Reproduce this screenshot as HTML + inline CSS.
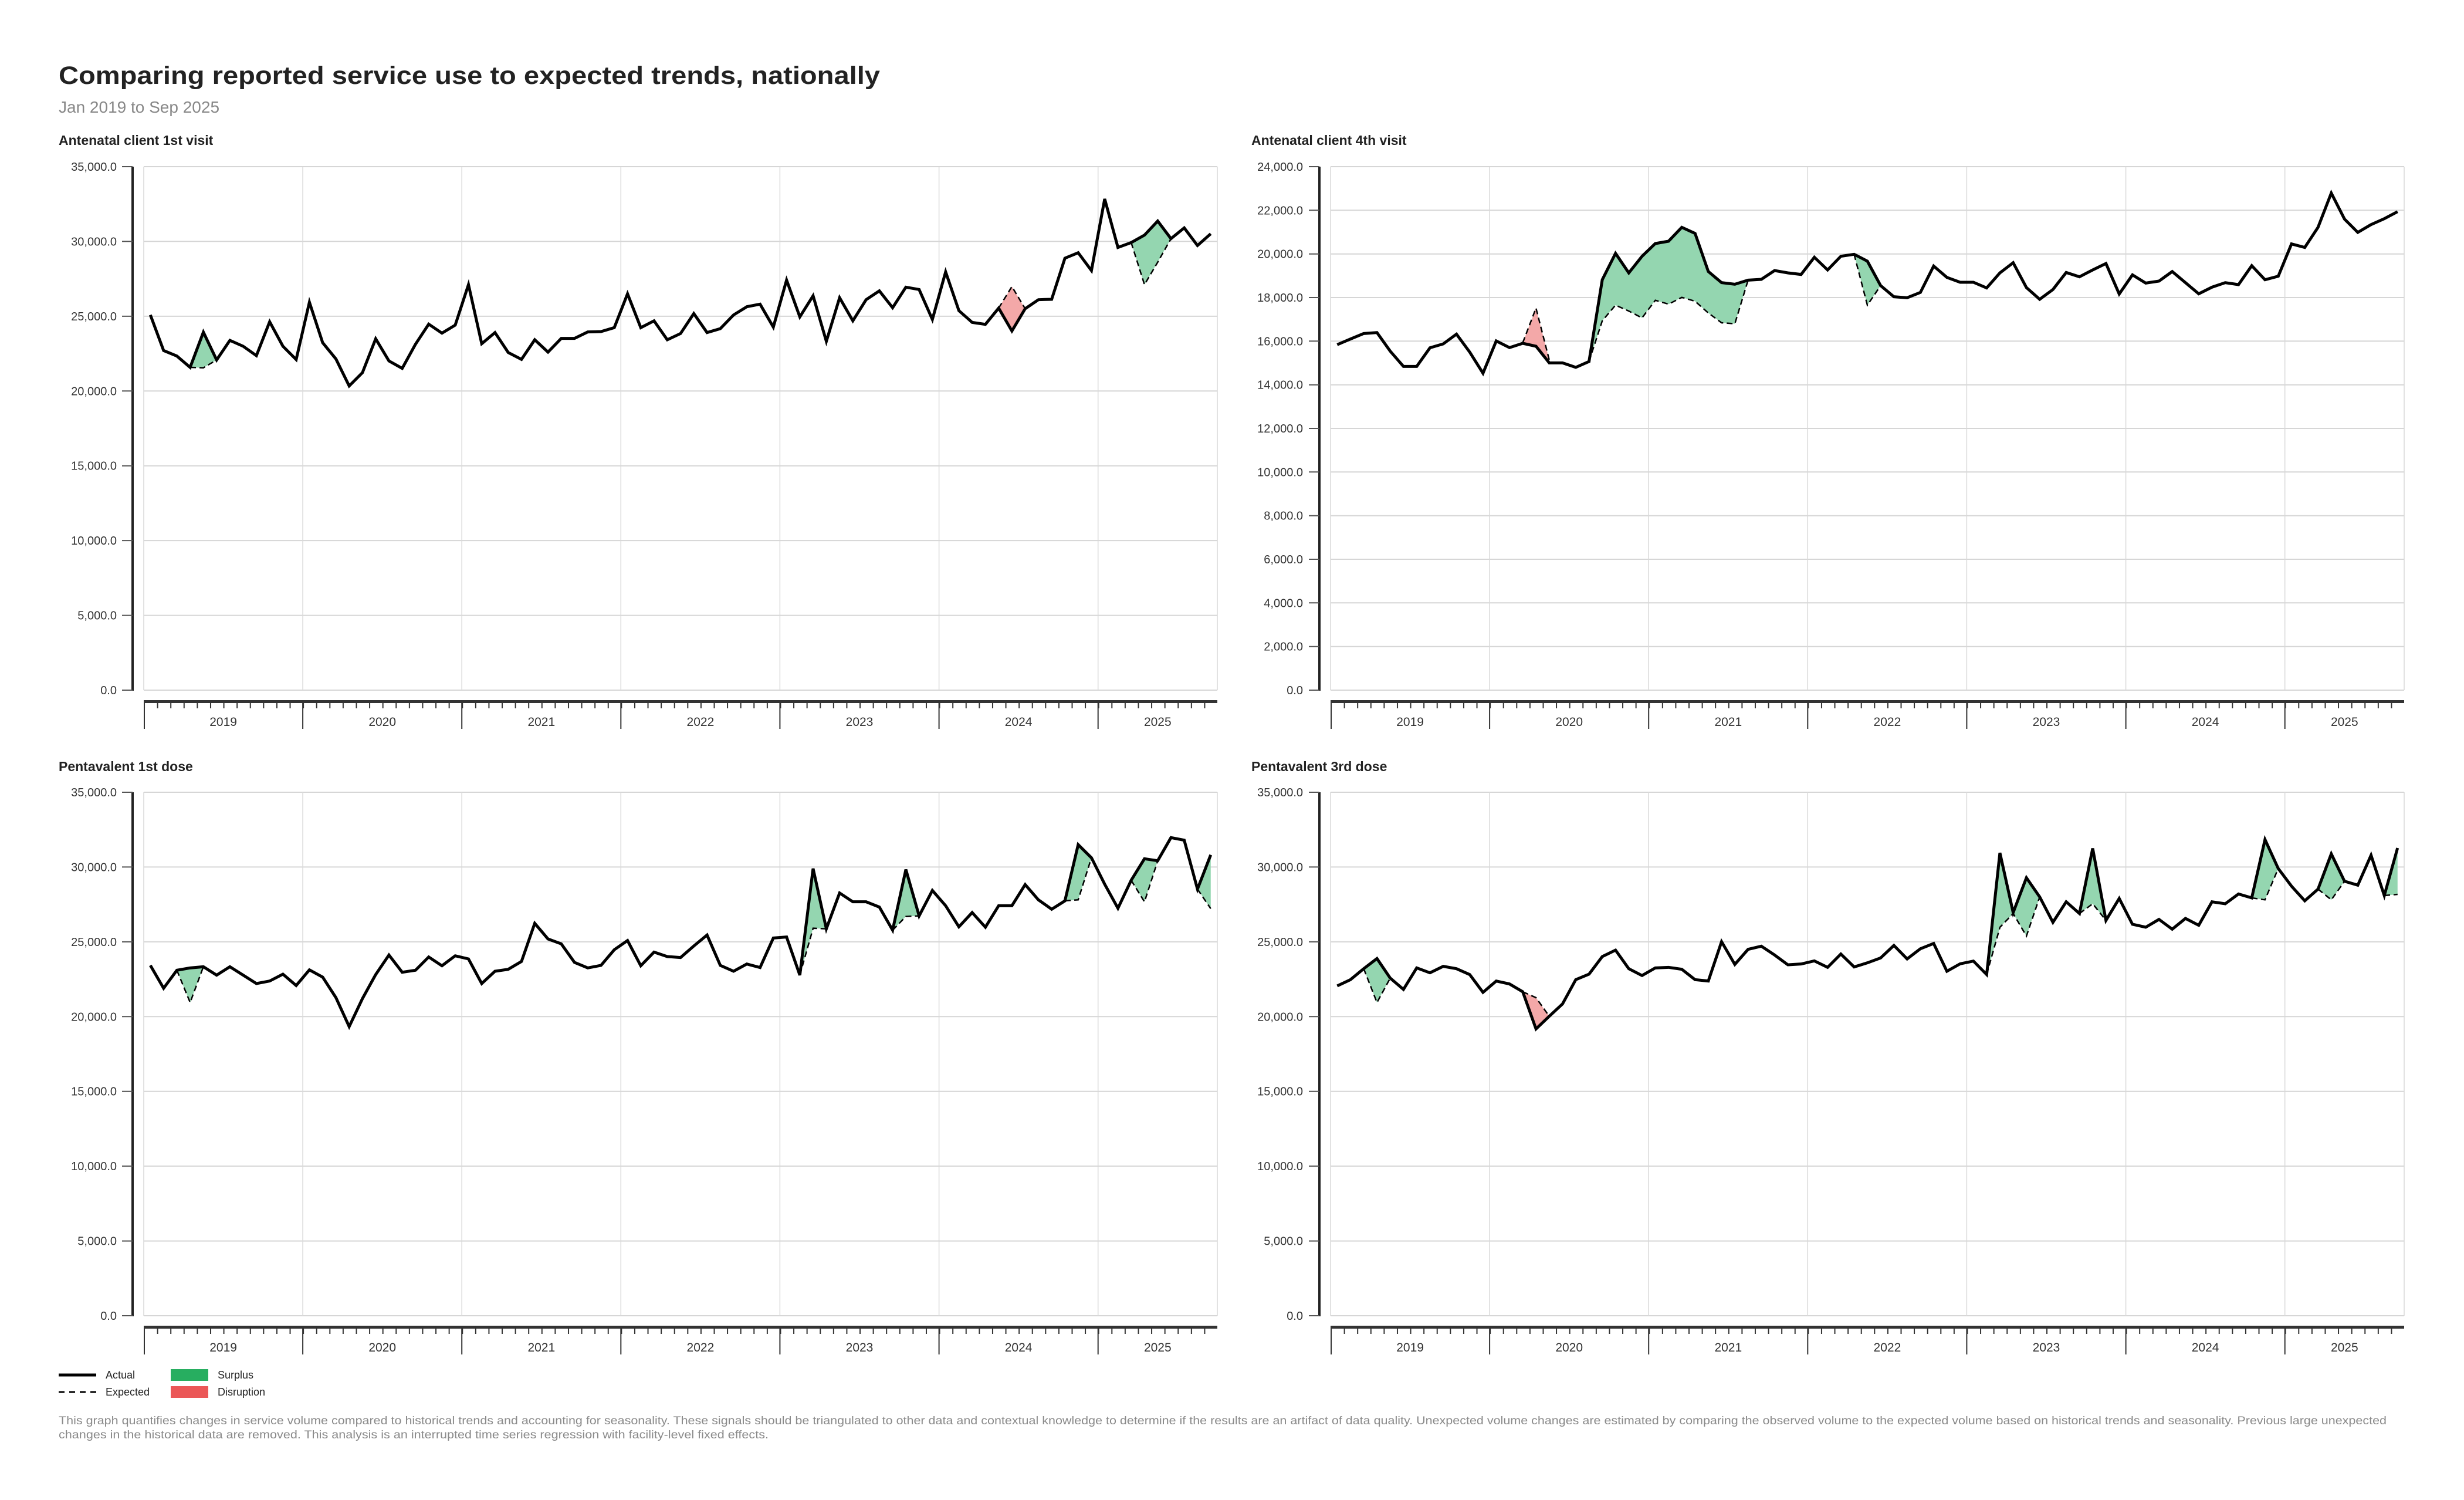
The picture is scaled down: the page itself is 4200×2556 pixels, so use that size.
<!DOCTYPE html>
<html><head><meta charset="utf-8"><style>
html,body{margin:0;padding:0;background:#fff;}
svg{display:block;font-family:"Liberation Sans",sans-serif;}
.yl{font-size:20px;fill:#333;text-anchor:end;}
.xl{font-size:21px;fill:#333;text-anchor:middle;}
.pt{font-size:23px;font-weight:bold;fill:#222;}
.grid{stroke:#d6d6d6;stroke-width:2;}
.vg{stroke:#d9d9d9;stroke-width:1.5;}
.act{fill:none;stroke:#000;stroke-width:5;stroke-linejoin:miter;vector-effect:non-scaling-stroke;}
.exp{fill:none;stroke:#000;stroke-width:2.5;stroke-dasharray:10 6;}
.gf{fill:#94d6b0;}
.rf{fill:#f3a8a8;}
</style></head><body>
<svg width="4200" height="2556" viewBox="0 0 4200 2556" xmlns="http://www.w3.org/2000/svg">
<defs>
<pattern id="mt1" patternUnits="userSpaceOnUse" x="245" y="0" width="22.593" height="20"><rect x="0" y="0" width="2" height="20" fill="#333"/></pattern>
<pattern id="mt2" patternUnits="userSpaceOnUse" x="2268" y="0" width="22.593" height="20"><rect x="0" y="0" width="2" height="20" fill="#333"/></pattern>
</defs>

<text x="100" y="143" font-size="43" font-weight="bold" fill="#222" textLength="1400" lengthAdjust="spacingAndGlyphs">Comparing reported service use to expected trends, nationally</text>
<text x="100" y="192" font-size="28" fill="#888">Jan 2019 to Sep 2025</text>

<!-- ========== PANEL 1 ========== -->
<text class="pt" x="100" y="247">Antenatal client 1st visit</text>
<g>
<g class="grid">
<line x1="245" x2="2075" y1="1176" y2="1176"/><line x1="245" x2="2075" y1="1048.6" y2="1048.6"/><line x1="245" x2="2075" y1="921.1" y2="921.1"/><line x1="245" x2="2075" y1="793.7" y2="793.7"/><line x1="245" x2="2075" y1="666.3" y2="666.3"/><line x1="245" x2="2075" y1="538.9" y2="538.9"/><line x1="245" x2="2075" y1="411.4" y2="411.4"/><line x1="245" x2="2075" y1="284" y2="284"/>
</g>
<g class="vg">
<line x1="245" x2="245" y1="284" y2="1176"/><line x1="516.1" x2="516.1" y1="284" y2="1176"/><line x1="787.2" x2="787.2" y1="284" y2="1176"/><line x1="1058.3" x2="1058.3" y1="284" y2="1176"/><line x1="1329.4" x2="1329.4" y1="284" y2="1176"/><line x1="1600.6" x2="1600.6" y1="284" y2="1176"/><line x1="1871.7" x2="1871.7" y1="284" y2="1176"/><line x1="2075" x2="2075" y1="284" y2="1176"/>
</g>
<line x1="226" x2="226" y1="284" y2="1177" stroke="#222" stroke-width="4"/>
<g stroke="#555" stroke-width="2">
<line x1="208" x2="226" y1="1176" y2="1176"/><line x1="208" x2="226" y1="1048.6" y2="1048.6"/><line x1="208" x2="226" y1="921.1" y2="921.1"/><line x1="208" x2="226" y1="793.7" y2="793.7"/><line x1="208" x2="226" y1="666.3" y2="666.3"/><line x1="208" x2="226" y1="538.9" y2="538.9"/><line x1="208" x2="226" y1="411.4" y2="411.4"/><line x1="208" x2="226" y1="284" y2="284"/>
</g>
<text class="yl" x="199" y="1183">0.0</text>
<text class="yl" x="199" y="1055.6">5,000.0</text>
<text class="yl" x="199" y="928.1">10,000.0</text>
<text class="yl" x="199" y="800.7">15,000.0</text>
<text class="yl" x="199" y="673.3">20,000.0</text>
<text class="yl" x="199" y="545.9">25,000.0</text>
<text class="yl" x="199" y="418.4">30,000.0</text>
<text class="yl" x="199" y="291">35,000.0</text>
<rect x="245" y="1193" width="1830" height="5" fill="#333"/>
<rect x="245" y="1197" width="1830" height="10" fill="url(#mt1)"/>
<g stroke="#333" stroke-width="2">
<line x1="246" x2="246" y1="1197" y2="1242"/><line x1="516.1" x2="516.1" y1="1197" y2="1242"/><line x1="787.2" x2="787.2" y1="1197" y2="1242"/><line x1="1058.3" x2="1058.3" y1="1197" y2="1242"/><line x1="1329.4" x2="1329.4" y1="1197" y2="1242"/><line x1="1600.6" x2="1600.6" y1="1197" y2="1242"/><line x1="1871.7" x2="1871.7" y1="1197" y2="1242"/>
</g>
<text class="xl" x="380.6" y="1237">2019</text><text class="xl" x="651.7" y="1237">2020</text><text class="xl" x="922.8" y="1237">2021</text><text class="xl" x="1193.9" y="1237">2022</text><text class="xl" x="1465" y="1237">2023</text><text class="xl" x="1736.1" y="1237">2024</text><text class="xl" x="1973.3" y="1237">2025</text>

<g transform="translate(256.3,380) scale(22.593,0.33333)">
<polygon class="gf" points="3,738 4,558 5,700 4,740"/>
<polygon class="rf" points="64,435 65,552 66,438 65,325"/>
<polygon class="gf" points="74,100 75,62 76,-10 77,80 76,200 75,315"/>
<polyline class="act" points="0,470 1,652 2,680 3,738 4,558 5,700 6,600 7,630 8,678 9,505 10,630 11,698 12,405 13,612 14,695 15,833 16,765 17,592 18,705 19,743 20,620 21,517 22,563 23,522 24,315 25,617 26,560 27,662 28,697 29,597 30,660 31,590 32,590 33,557 34,555 35,535 36,362 37,535 38,500 39,597 40,565 41,463 42,560 43,540 44,470 45,428 46,415 47,532 48,292 49,480 50,372 51,605 52,382 53,500 54,392 55,347 56,433 57,328 58,340 59,493 60,250 61,448 62,508 63,518 64,435 65,552 66,438 67,392 68,390 69,180 70,152 71,243 72,-123 73,125 74,100 75,62 76,-10 77,80 78,25 79,115 80,55"/>
</g>
<g transform="translate(245,0) scale(0.99511,1) translate(-245,0)">
<polyline class="exp" points="324.5,626 347.2,626.7 369.9,613.3"/>
<polyline class="exp" points="1709.4,525 1732.1,488.3 1754.8,526"/>
<polyline class="exp" points="1936.4,413.3 1959.2,485 1981.9,446.7 2004.6,406.7"/>
</g>
</g>

<!-- ========== PANEL 2 ========== -->
<text class="pt" x="2133" y="247">Antenatal client 4th visit</text>
<g>
<g class="grid">
<line x1="2268" x2="4098" y1="1176" y2="1176"/><line x1="2268" x2="4098" y1="1101.7" y2="1101.7"/><line x1="2268" x2="4098" y1="1027.3" y2="1027.3"/><line x1="2268" x2="4098" y1="953" y2="953"/><line x1="2268" x2="4098" y1="878.7" y2="878.7"/><line x1="2268" x2="4098" y1="804.3" y2="804.3"/><line x1="2268" x2="4098" y1="730" y2="730"/><line x1="2268" x2="4098" y1="655.7" y2="655.7"/><line x1="2268" x2="4098" y1="581.3" y2="581.3"/><line x1="2268" x2="4098" y1="507" y2="507"/><line x1="2268" x2="4098" y1="432.7" y2="432.7"/><line x1="2268" x2="4098" y1="358.3" y2="358.3"/><line x1="2268" x2="4098" y1="284" y2="284"/>
</g>
<g class="vg">
<line x1="2268" x2="2268" y1="284" y2="1176"/><line x1="2539.1" x2="2539.1" y1="284" y2="1176"/><line x1="2810.2" x2="2810.2" y1="284" y2="1176"/><line x1="3081.3" x2="3081.3" y1="284" y2="1176"/><line x1="3352.4" x2="3352.4" y1="284" y2="1176"/><line x1="3623.6" x2="3623.6" y1="284" y2="1176"/><line x1="3894.7" x2="3894.7" y1="284" y2="1176"/><line x1="4098" x2="4098" y1="284" y2="1176"/>
</g>
<line x1="2249" x2="2249" y1="284" y2="1177" stroke="#222" stroke-width="4"/>
<g stroke="#555" stroke-width="2">
<line x1="2231" x2="2249" y1="1176" y2="1176"/><line x1="2231" x2="2249" y1="1101.7" y2="1101.7"/><line x1="2231" x2="2249" y1="1027.3" y2="1027.3"/><line x1="2231" x2="2249" y1="953" y2="953"/><line x1="2231" x2="2249" y1="878.7" y2="878.7"/><line x1="2231" x2="2249" y1="804.3" y2="804.3"/><line x1="2231" x2="2249" y1="730" y2="730"/><line x1="2231" x2="2249" y1="655.7" y2="655.7"/><line x1="2231" x2="2249" y1="581.3" y2="581.3"/><line x1="2231" x2="2249" y1="507" y2="507"/><line x1="2231" x2="2249" y1="432.7" y2="432.7"/><line x1="2231" x2="2249" y1="358.3" y2="358.3"/><line x1="2231" x2="2249" y1="284" y2="284"/>
</g>
<text class="yl" x="2221" y="1183">0.0</text>
<text class="yl" x="2221" y="1108.7">2,000.0</text>
<text class="yl" x="2221" y="1034.3">4,000.0</text>
<text class="yl" x="2221" y="960">6,000.0</text>
<text class="yl" x="2221" y="885.7">8,000.0</text>
<text class="yl" x="2221" y="811.3">10,000.0</text>
<text class="yl" x="2221" y="737">12,000.0</text>
<text class="yl" x="2221" y="662.7">14,000.0</text>
<text class="yl" x="2221" y="588.3">16,000.0</text>
<text class="yl" x="2221" y="514">18,000.0</text>
<text class="yl" x="2221" y="439.7">20,000.0</text>
<text class="yl" x="2221" y="365.3">22,000.0</text>
<text class="yl" x="2221" y="291">24,000.0</text>
<rect x="2268" y="1193" width="1830" height="5" fill="#333"/>
<rect x="2268" y="1197" width="1830" height="10" fill="url(#mt2)"/>
<g stroke="#333" stroke-width="2">
<line x1="2269" x2="2269" y1="1197" y2="1242"/><line x1="2539.1" x2="2539.1" y1="1197" y2="1242"/><line x1="2810.2" x2="2810.2" y1="1197" y2="1242"/><line x1="3081.3" x2="3081.3" y1="1197" y2="1242"/><line x1="3352.4" x2="3352.4" y1="1197" y2="1242"/><line x1="3623.6" x2="3623.6" y1="1197" y2="1242"/><line x1="3894.7" x2="3894.7" y1="1197" y2="1242"/>
</g>
<text class="xl" x="2403.6" y="1237">2019</text><text class="xl" x="2674.7" y="1237">2020</text><text class="xl" x="2945.8" y="1237">2021</text><text class="xl" x="3216.9" y="1237">2022</text><text class="xl" x="3488" y="1237">2023</text><text class="xl" x="3759.1" y="1237">2024</text><text class="xl" x="3996.3" y="1237">2025</text>

<g transform="translate(2279.3,280) scale(22.593,0.33333)">
<polygon class="rf" points="14,915 15,930 16,1015 16,1000 15,735 14,912"/>
<polygon class="gf" points="19,1008 20,590 21,455 22,555 23,470 24,405 25,393 26,322 27,353 28,548 29,605 30,613 31,592 30,815 29,810 28,760 27,700 26,680 25,715 24,695 23,785 22,750 21,720 20,800"/>
<polygon class="gf" points="39,460 40,495 41,620 40,720"/>
<polyline class="act" points="0,922 1,893 2,865 3,860 4,955 5,1033 6,1033 7,938 8,918 9,868 10,960 11,1068 12,903 13,937 14,915 15,930 16,1015 17,1015 18,1038 19,1008 20,590 21,455 22,555 23,470 24,405 25,393 26,322 27,353 28,548 29,605 30,613 31,592 32,588 33,543 34,555 35,563 36,475 37,540 38,470 39,460 40,495 41,620 42,677 43,682 44,655 45,520 46,578 47,603 48,603 49,632 50,555 51,503 52,630 53,690 54,640 55,553 56,575 57,540 58,507 59,663 60,565 61,607 62,597 63,548 64,605 65,662 66,628 67,605 68,615 69,518 70,590 71,572 72,407 73,425 74,322 75,147 76,280 77,348 78,308 79,278 80,242"/>
</g>
<g transform="translate(2268,0) scale(0.99511,1) translate(-2268,0)">
<polyline class="exp" points="2597.2,584 2619.9,525 2642.6,613.3"/>
<polyline class="exp" points="2710.7,616 2733.4,546.7 2756.1,520 2778.8,530 2801.5,541.7 2824.3,511.7 2847,518.3 2869.7,506.7 2892.4,513.3 2915.1,533.3 2937.8,550 2960.5,551.7 2983.2,477.3"/>
<polyline class="exp" points="3164.8,433.3 3187.5,520 3210.2,486.7"/>
</g>
</g>

<!-- ========== PANEL 3 ========== -->
<text class="pt" x="100" y="1314">Pentavalent 1st dose</text>
<g>
<g class="grid">
<line x1="245" x2="2075" y1="2242" y2="2242"/><line x1="245" x2="2075" y1="2114.6" y2="2114.6"/><line x1="245" x2="2075" y1="1987.1" y2="1987.1"/><line x1="245" x2="2075" y1="1859.7" y2="1859.7"/><line x1="245" x2="2075" y1="1732.3" y2="1732.3"/><line x1="245" x2="2075" y1="1604.9" y2="1604.9"/><line x1="245" x2="2075" y1="1477.4" y2="1477.4"/><line x1="245" x2="2075" y1="1350" y2="1350"/>
</g>
<g class="vg">
<line x1="245" x2="245" y1="1350" y2="2242"/><line x1="516.1" x2="516.1" y1="1350" y2="2242"/><line x1="787.2" x2="787.2" y1="1350" y2="2242"/><line x1="1058.3" x2="1058.3" y1="1350" y2="2242"/><line x1="1329.4" x2="1329.4" y1="1350" y2="2242"/><line x1="1600.6" x2="1600.6" y1="1350" y2="2242"/><line x1="1871.7" x2="1871.7" y1="1350" y2="2242"/><line x1="2075" x2="2075" y1="1350" y2="2242"/>
</g>
<line x1="226" x2="226" y1="1350" y2="2243" stroke="#222" stroke-width="4"/>
<g stroke="#555" stroke-width="2">
<line x1="208" x2="226" y1="2242" y2="2242"/><line x1="208" x2="226" y1="2114.6" y2="2114.6"/><line x1="208" x2="226" y1="1987.1" y2="1987.1"/><line x1="208" x2="226" y1="1859.7" y2="1859.7"/><line x1="208" x2="226" y1="1732.3" y2="1732.3"/><line x1="208" x2="226" y1="1604.9" y2="1604.9"/><line x1="208" x2="226" y1="1477.4" y2="1477.4"/><line x1="208" x2="226" y1="1350" y2="1350"/>
</g>
<text class="yl" x="199" y="2249">0.0</text>
<text class="yl" x="199" y="2121.6">5,000.0</text>
<text class="yl" x="199" y="1994.1">10,000.0</text>
<text class="yl" x="199" y="1866.7">15,000.0</text>
<text class="yl" x="199" y="1739.3">20,000.0</text>
<text class="yl" x="199" y="1611.9">25,000.0</text>
<text class="yl" x="199" y="1484.4">30,000.0</text>
<text class="yl" x="199" y="1357">35,000.0</text>
<rect x="245" y="2259" width="1830" height="5" fill="#333"/>
<rect x="245" y="2263" width="1830" height="10" fill="url(#mt1)"/>
<g stroke="#333" stroke-width="2">
<line x1="246" x2="246" y1="2263" y2="2308"/><line x1="516.1" x2="516.1" y1="2263" y2="2308"/><line x1="787.2" x2="787.2" y1="2263" y2="2308"/><line x1="1058.3" x2="1058.3" y1="2263" y2="2308"/><line x1="1329.4" x2="1329.4" y1="2263" y2="2308"/><line x1="1600.6" x2="1600.6" y1="2263" y2="2308"/><line x1="1871.7" x2="1871.7" y1="2263" y2="2308"/>
</g>
<text class="xl" x="380.6" y="2303">2019</text><text class="xl" x="651.7" y="2303">2020</text><text class="xl" x="922.8" y="2303">2021</text><text class="xl" x="1193.9" y="2303">2022</text><text class="xl" x="1465" y="2303">2023</text><text class="xl" x="1736.1" y="2303">2024</text><text class="xl" x="1973.3" y="2303">2025</text>

<g transform="translate(256.3,1400) scale(22.593,0.33333)">
<polygon class="gf" points="2,760 3,748 4,742 3,925"/>
<polygon class="gf" points="49,785 50,240 51,548 50,545"/>
<polygon class="gf" points="56,555 57,245 58,482 57,485"/>
<polygon class="gf" points="69,405 70,118 71,185 70,400"/>
<polygon class="gf" points="74,300 75,190 76,200 75,410"/>
<polygon class="gf" points="79,345 80,170 80,445"/>
<polyline class="act" points="0,735 1,852 2,760 3,748 4,742 5,785 6,742 7,785 8,828 9,815 10,780 11,838 12,758 13,795 14,900 15,1048 16,905 17,782 18,682 19,770 20,760 21,692 22,737 23,686 24,702 25,828 26,765 27,755 28,715 29,520 30,600 31,625 32,720 33,748 34,735 35,655 36,608 37,737 38,667 39,690 40,695 41,636 42,580 43,735 44,765 45,728 46,746 47,595 48,590 49,785 50,240 51,548 52,365 53,410 54,410 55,437 56,555 57,245 58,482 59,352 60,430 61,538 62,465 63,540 64,430 65,430 66,322 67,400 68,448 69,405 70,118 71,185 72,320 73,443 74,300 75,190 76,200 77,82 78,95 79,345 80,170"/>
</g>
<g transform="translate(245,0) scale(0.99511,1) translate(-245,0)">
<polyline class="exp" points="301.8,1653.3 324.5,1708.3 347.2,1647.3"/>
<polyline class="exp" points="1368.8,1661.7 1391.6,1581.7 1414.3,1582.7"/>
<polyline class="exp" points="1527.8,1585 1550.5,1561.7 1573.2,1560.7"/>
<polyline class="exp" points="1822.9,1535 1845.6,1533.3 1868.3,1461.7"/>
<polyline class="exp" points="1936.4,1500 1959.2,1536.7 1981.9,1466.7"/>
<polyline class="exp" points="2049.9,1515 2072.7,1548.3"/>
</g>
</g>

<!-- ========== PANEL 4 ========== -->
<text class="pt" x="2133" y="1314">Pentavalent 3rd dose</text>
<g>
<g class="grid">
<line x1="2268" x2="4098" y1="2242" y2="2242"/><line x1="2268" x2="4098" y1="2114.6" y2="2114.6"/><line x1="2268" x2="4098" y1="1987.1" y2="1987.1"/><line x1="2268" x2="4098" y1="1859.7" y2="1859.7"/><line x1="2268" x2="4098" y1="1732.3" y2="1732.3"/><line x1="2268" x2="4098" y1="1604.9" y2="1604.9"/><line x1="2268" x2="4098" y1="1477.4" y2="1477.4"/><line x1="2268" x2="4098" y1="1350" y2="1350"/>
</g>
<g class="vg">
<line x1="2268" x2="2268" y1="1350" y2="2242"/><line x1="2539.1" x2="2539.1" y1="1350" y2="2242"/><line x1="2810.2" x2="2810.2" y1="1350" y2="2242"/><line x1="3081.3" x2="3081.3" y1="1350" y2="2242"/><line x1="3352.4" x2="3352.4" y1="1350" y2="2242"/><line x1="3623.6" x2="3623.6" y1="1350" y2="2242"/><line x1="3894.7" x2="3894.7" y1="1350" y2="2242"/><line x1="4098" x2="4098" y1="1350" y2="2242"/>
</g>
<line x1="2249" x2="2249" y1="1350" y2="2243" stroke="#222" stroke-width="4"/>
<g stroke="#555" stroke-width="2">
<line x1="2231" x2="2249" y1="2242" y2="2242"/><line x1="2231" x2="2249" y1="2114.6" y2="2114.6"/><line x1="2231" x2="2249" y1="1987.1" y2="1987.1"/><line x1="2231" x2="2249" y1="1859.7" y2="1859.7"/><line x1="2231" x2="2249" y1="1732.3" y2="1732.3"/><line x1="2231" x2="2249" y1="1604.9" y2="1604.9"/><line x1="2231" x2="2249" y1="1477.4" y2="1477.4"/><line x1="2231" x2="2249" y1="1350" y2="1350"/>
</g>
<text class="yl" x="2221" y="2249">0.0</text>
<text class="yl" x="2221" y="2121.6">5,000.0</text>
<text class="yl" x="2221" y="1994.1">10,000.0</text>
<text class="yl" x="2221" y="1866.7">15,000.0</text>
<text class="yl" x="2221" y="1739.3">20,000.0</text>
<text class="yl" x="2221" y="1611.9">25,000.0</text>
<text class="yl" x="2221" y="1484.4">30,000.0</text>
<text class="yl" x="2221" y="1357">35,000.0</text>
<rect x="2268" y="2259" width="1830" height="5" fill="#333"/>
<rect x="2268" y="2263" width="1830" height="10" fill="url(#mt2)"/>
<g stroke="#333" stroke-width="2">
<line x1="2269" x2="2269" y1="2263" y2="2308"/><line x1="2539.1" x2="2539.1" y1="2263" y2="2308"/><line x1="2810.2" x2="2810.2" y1="2263" y2="2308"/><line x1="3081.3" x2="3081.3" y1="2263" y2="2308"/><line x1="3352.4" x2="3352.4" y1="2263" y2="2308"/><line x1="3623.6" x2="3623.6" y1="2263" y2="2308"/><line x1="3894.7" x2="3894.7" y1="2263" y2="2308"/>
</g>
<text class="xl" x="2403.6" y="2303">2019</text><text class="xl" x="2674.7" y="2303">2020</text><text class="xl" x="2945.8" y="2303">2021</text><text class="xl" x="3216.9" y="2303">2022</text><text class="xl" x="3488" y="2303">2023</text><text class="xl" x="3759.1" y="2303">2024</text><text class="xl" x="3996.3" y="2303">2025</text>

<g transform="translate(2279.3,1400) scale(22.593,0.33333)">
<polygon class="gf" points="2,752 3,700 4,800 3,925"/>
<polygon class="rf" points="14,870 15,1060 16,995 15,900"/>
<polygon class="gf" points="49,782 50,160 51,465 52,287 53,385 52,585 51,470 50,540"/>
<polygon class="gf" points="56,470 57,137 58,505 57,420"/>
<polygon class="gf" points="69,390 70,92 71,240 70,400"/>
<polygon class="gf" points="74,345 75,165 76,305 75,400"/>
<polygon class="gf" points="79,378 80,135 80,372"/>
<polyline class="act" points="0,840 1,808 2,752 3,700 4,800 5,858 6,748 7,773 8,740 9,752 10,782 11,873 12,815 13,830 14,870 15,1060 16,995 17,932 18,808 19,780 20,690 21,657 22,752 23,787 24,748 25,745 26,755 27,808 28,815 29,614 30,730 31,653 32,637 33,682 34,732 35,728 36,712 37,745 38,677 39,743 40,722 41,697 42,633 43,702 44,650 45,623 46,765 47,727 48,713 49,782 50,160 51,465 52,287 53,385 54,515 55,410 56,470 57,137 58,505 59,393 60,525 61,540 62,500 63,550 64,495 65,530 66,410 67,420 68,370 69,390 70,92 71,240 72,330 73,405 74,345 75,165 76,305 77,325 78,172 79,378 80,135"/>
</g>
<g transform="translate(2268,0) scale(0.99511,1) translate(-2268,0)">
<polyline class="exp" points="2324.8,1650.7 2347.5,1708.3 2370.2,1666.7"/>
<polyline class="exp" points="2597.2,1690 2619.9,1700 2642.6,1731.7"/>
<polyline class="exp" points="3391.8,1660.7 3414.6,1580 3437.3,1556.7 3460,1595 3482.7,1528.3"/>
<polyline class="exp" points="3550.7,1556.7 3573.5,1540 3596.2,1568.3"/>
<polyline class="exp" points="3845.9,1530 3868.6,1533.3 3891.3,1480"/>
<polyline class="exp" points="3959.4,1515 3982.2,1533.3 4004.9,1501.7"/>
<polyline class="exp" points="4072.9,1526 4095.7,1524"/>
</g>
</g>

<!-- Legend -->
<line x1="100" x2="164" y1="2343" y2="2343" stroke="#000" stroke-width="5"/>
<text x="180" y="2349" font-size="18" fill="#222">Actual</text>
<line x1="100" x2="164" y1="2372" y2="2372" stroke="#000" stroke-width="3" stroke-dasharray="10 8"/>
<text x="180" y="2378" font-size="18" fill="#222">Expected</text>
<rect x="291" y="2333" width="64" height="20" fill="#27ae60"/>
<text x="371" y="2349" font-size="18" fill="#222">Surplus</text>
<rect x="291" y="2362" width="64" height="20" fill="#eb5757"/>
<text x="371" y="2378" font-size="18" fill="#222">Disruption</text>

<!-- Footnote -->
<text x="100" y="2427" font-size="19" fill="#8a8a8a" textLength="3968" lengthAdjust="spacingAndGlyphs">This graph quantifies changes in service volume compared to historical trends and accounting for seasonality. These signals should be triangulated to other data and contextual knowledge to determine if the results are an artifact of data quality. Unexpected volume changes are estimated by comparing the observed volume to the expected volume based on historical trends and seasonality. Previous large unexpected</text>
<text x="100" y="2451" font-size="19" fill="#8a8a8a" textLength="1210" lengthAdjust="spacingAndGlyphs">changes in the historical data are removed. This analysis is an interrupted time series regression with facility-level fixed effects.</text>
</svg>
</body></html>
